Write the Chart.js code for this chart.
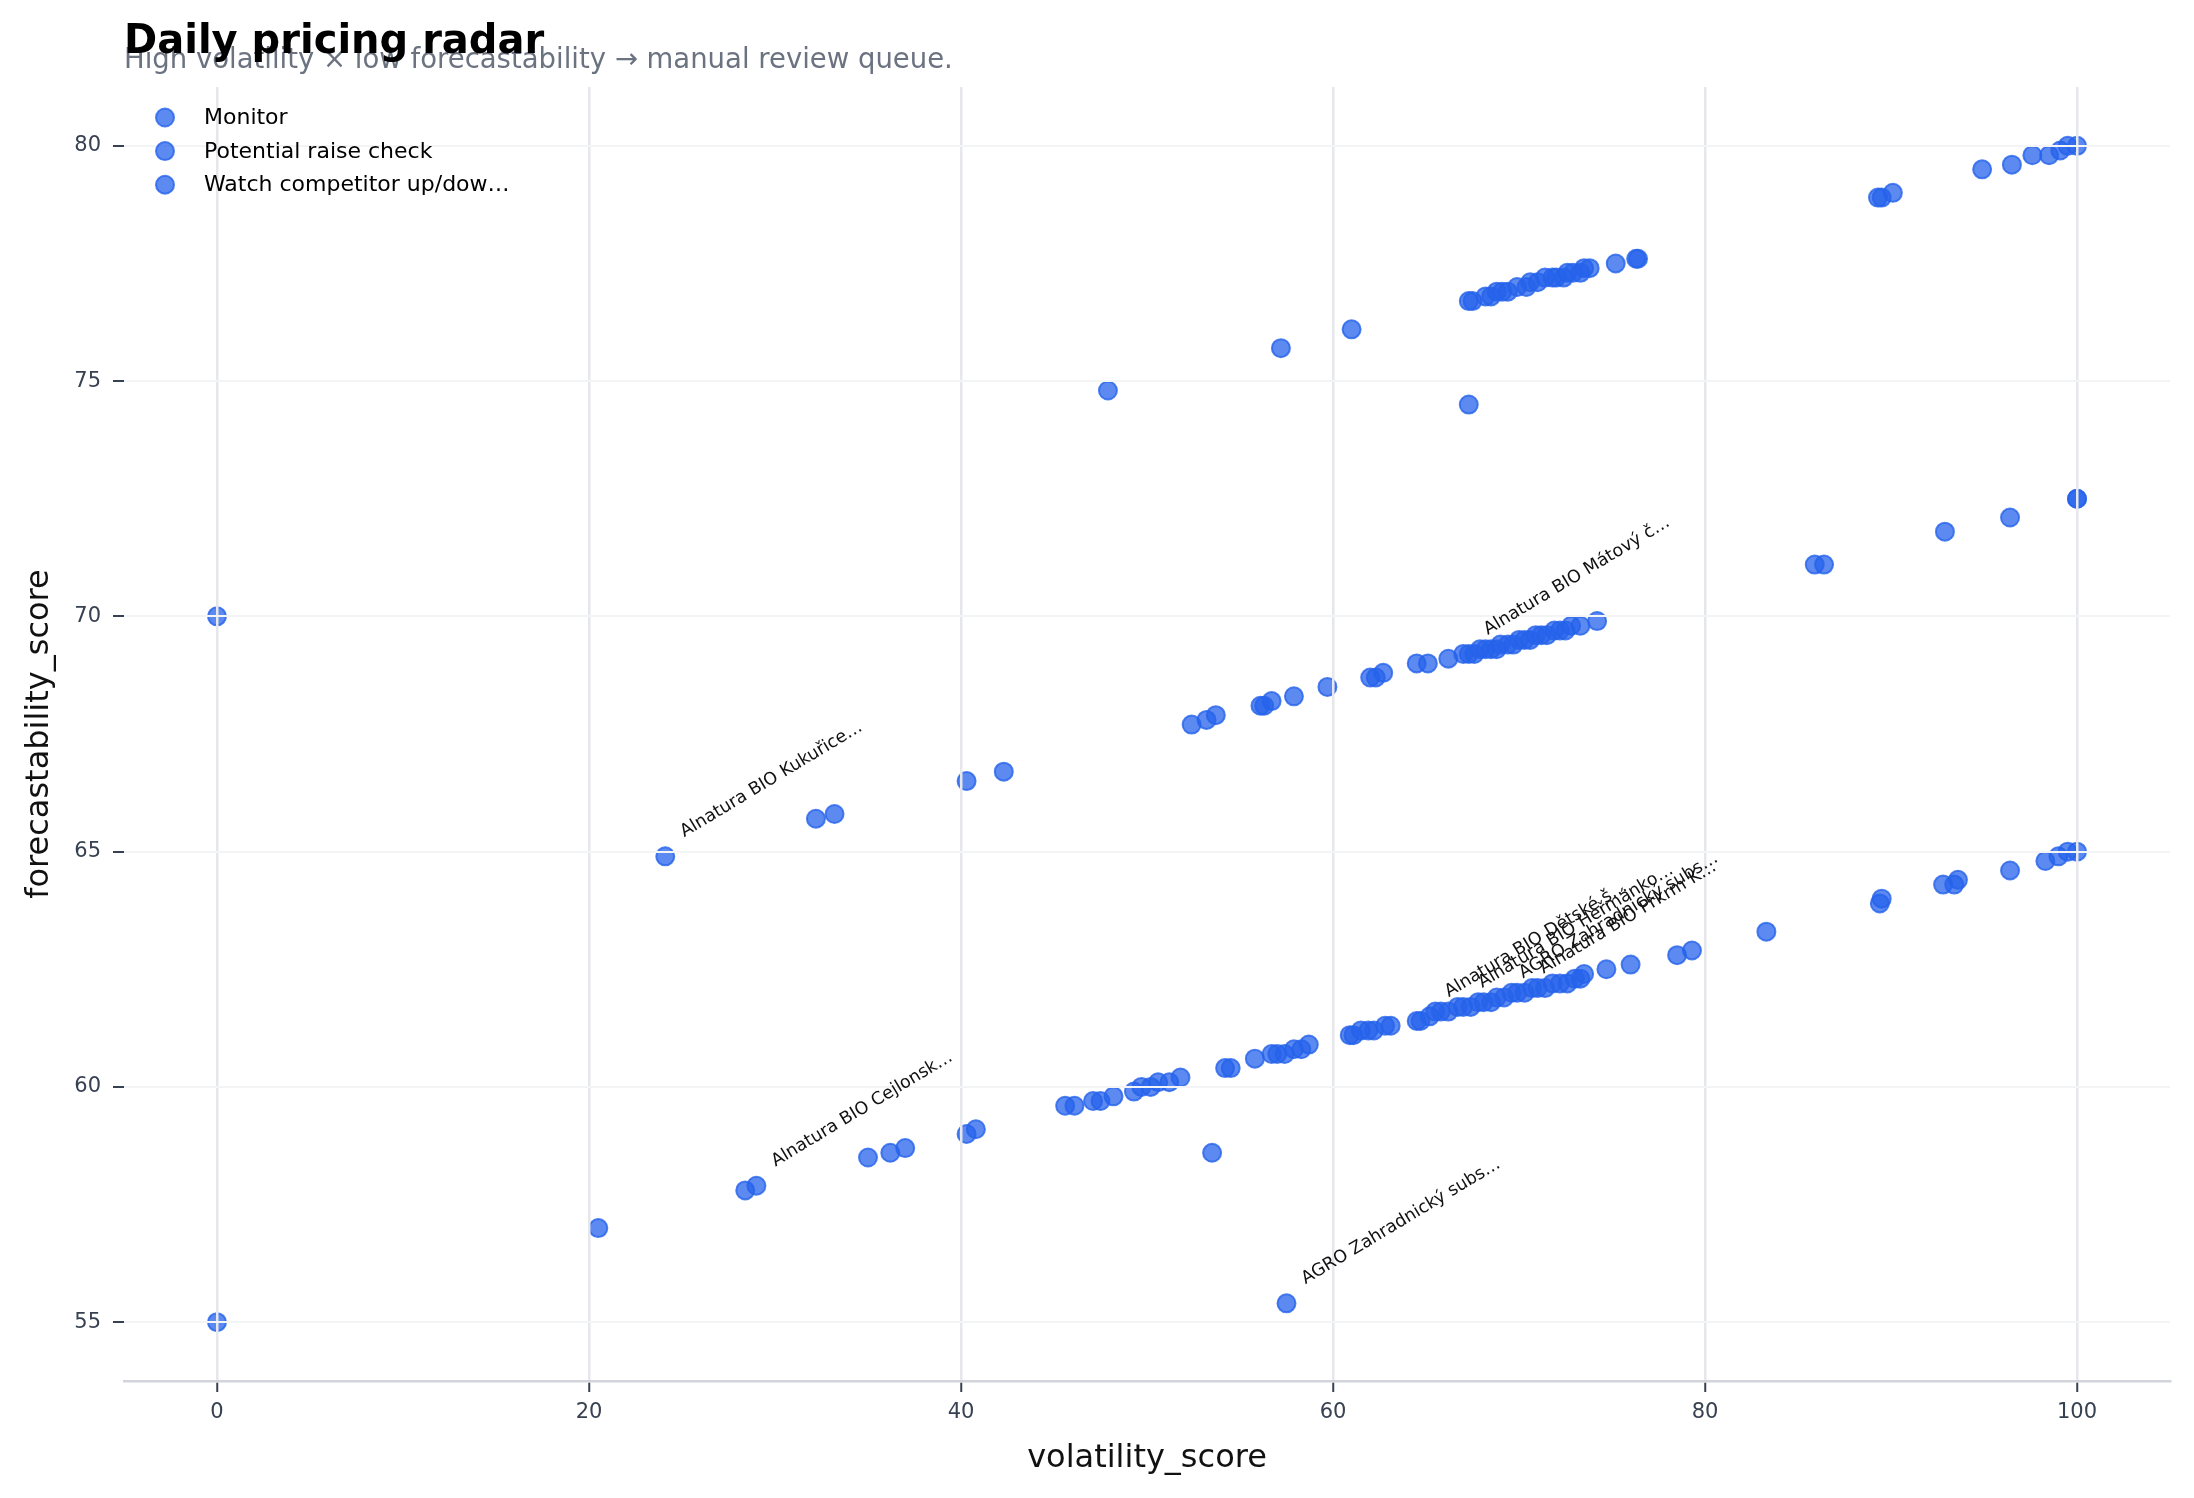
<!DOCTYPE html>
<html>
<head>
<meta charset="utf-8">
<script src="https://cdn.jsdelivr.net/npm/chart.js@4.4.1/dist/chart.umd.min.js"></script>
<style>
  html, body { margin: 0; padding: 0; background: #fff; }
</style>
</head>
<body>
<canvas id="radar" width="2194" height="1498"></canvas>
<script>
var FONT = "'DejaVu Sans', sans-serif";

// series names (as shown in the legend)
var seriesNames = ["Monitor", "Potential raise check", "Watch competitor up/dow…"];

// Monitor - lower band
var monitorX = [0, 20.5, 28.4, 29.0, 35.0, 36.2, 37.0, 40.3, 40.8, 45.6, 46.1, 47.1, 47.5, 48.2,
  49.3, 49.7, 50.2, 50.6, 51.2, 51.8, 53.5, 54.2, 54.5, 55.8, 56.7, 57.0, 57.4, 57.5, 57.9, 58.3,
  58.7, 60.9, 61.1, 61.5, 61.9, 62.2, 62.8, 63.1, 64.5, 64.7, 65.2, 65.5, 65.8, 66.2, 66.7, 67.0,
  67.4, 67.8, 68.1, 68.5, 68.8, 69.2, 69.6, 69.9, 70.3, 70.7, 71.0, 71.4, 71.8, 72.2, 72.6, 73.0,
  73.3, 73.5, 74.7, 76.0, 78.5, 79.3, 83.3, 89.4, 89.5, 92.8, 93.4, 93.6, 96.4, 98.3, 99.0, 99.5, 100];
var monitorY = [55.0, 57.0, 57.8, 57.9, 58.5, 58.6, 58.7, 59.0, 59.1, 59.6, 59.6, 59.7, 59.7, 59.8,
  59.9, 60.0, 60.0, 60.1, 60.1, 60.2, 58.6, 60.4, 60.4, 60.6, 60.7, 60.7, 60.7, 55.4, 60.8, 60.8,
  60.9, 61.1, 61.1, 61.2, 61.2, 61.2, 61.3, 61.3, 61.4, 61.4, 61.5, 61.6, 61.6, 61.6, 61.7, 61.7,
  61.7, 61.8, 61.8, 61.8, 61.9, 61.9, 62.0, 62.0, 62.0, 62.1, 62.1, 62.1, 62.2, 62.2, 62.2, 62.3,
  62.3, 62.4, 62.5, 62.6, 62.8, 62.9, 63.3, 63.9, 64.0, 64.3, 64.3, 64.4, 64.6, 64.8, 64.9, 65.0, 65.0];

// Potential raise check - upper band
var raiseX = [47.9, 57.2, 61.0, 67.3, 67.3, 67.5, 68.2, 68.5, 68.8, 69.1, 69.4, 69.9, 70.4, 70.6,
  71.0, 71.4, 71.8, 72.0, 72.4, 72.6, 72.9, 73.3, 73.5, 73.8, 75.2, 76.3, 76.4, 89.3, 89.5, 90.1,
  94.9, 96.5, 97.6, 98.5, 99.1, 99.5, 100];
var raiseY = [74.8, 75.7, 76.1, 74.5, 76.7, 76.7, 76.8, 76.8, 76.9, 76.9, 76.9, 77.0, 77.0, 77.1,
  77.1, 77.2, 77.2, 77.2, 77.2, 77.3, 77.3, 77.3, 77.4, 77.4, 77.5, 77.6, 77.6, 78.9, 78.9, 79.0,
  79.5, 79.6, 79.8, 79.8, 79.9, 80.0, 80.0];

// Watch competitor up/down - middle band
var watchX = [0, 24.1, 32.2, 33.2, 40.3, 42.3, 52.4, 53.2, 53.7, 56.1, 56.3, 56.7, 57.9, 59.7, 62.0,
  62.3, 62.7, 64.5, 65.1, 66.2, 67.0, 67.3, 67.6, 67.9, 68.2, 68.5, 68.8, 69.0, 69.4, 69.7, 70.0,
  70.3, 70.6, 70.9, 71.2, 71.5, 71.9, 72.2, 72.5, 72.8, 73.3, 74.2, 85.9, 86.4, 92.9, 96.4, 100, 100];
var watchY = [70.0, 64.9, 65.7, 65.8, 66.5, 66.7, 67.7, 67.8, 67.9, 68.1, 68.1, 68.2, 68.3, 68.5, 68.7,
  68.7, 68.8, 69.0, 69.0, 69.1, 69.2, 69.2, 69.2, 69.3, 69.3, 69.3, 69.3, 69.4, 69.4, 69.4, 69.5,
  69.5, 69.5, 69.6, 69.6, 69.6, 69.7, 69.7, 69.7, 69.8, 69.8, 69.9, 71.1, 71.1, 71.8, 72.1, 72.5, 72.5];

// annotated products
var noteText = ["Alnatura BIO Kukuřice…", "Alnatura BIO Cejlonsk…", "AGRO Zahradnický subs…",
  "Alnatura BIO Mátový č…", "Alnatura BIO Dětské š…", "Alnatura BIO Heřmánko…",
  "AGRO Zahradnický subs…", "Alnatura BIO Prkrm K…"];
var noteX = [24.1, 29.0, 57.5, 67.3, 65.2, 67.0, 69.2, 70.3];
var noteY = [64.9, 57.9, 55.4, 69.2, 61.5, 61.7, 61.9, 62.0];

var xTicks = [0, 20, 40, 60, 80, 100];
var yTicks = [55, 60, 65, 70, 75, 80];

function pts(xs, ys) {
  return xs.map(function (x, i) { return { x: x, y: ys[i] }; });
}

var dotFill = 'rgba(37, 99, 235, 0.75)';
var dotEdge = 'rgba(37, 99, 235, 0.8)';

function dotStyle(name, data) {
  return {
    label: name,
    data: data,
    backgroundColor: dotFill,
    borderColor: dotEdge,
    borderWidth: 2,
    pointRadius: 9,
    pointHoverRadius: 9
  };
}

var header = {
  id: 'header',
  afterDraw: function (chart) {
    var ctx = chart.ctx;
    ctx.save();
    ctx.textAlign = 'left';
    ctx.textBaseline = 'alphabetic';
    ctx.fillStyle = '#6b7280';
    ctx.font = '27.5px ' + FONT;
    ctx.fillText('High volatility × low forecastability → manual review queue.', 124, 68);
    ctx.fillStyle = '#000000';
    ctx.font = 'bold 40px ' + FONT;
    ctx.fillText('Daily pricing radar', 124, 53);
    ctx.restore();
  }
};

var innerLegend = {
  id: 'innerLegend',
  afterDraw: function (chart) {
    var ctx = chart.ctx;
    ctx.save();
    ctx.font = '22px ' + FONT;
    ctx.textBaseline = 'middle';
    ctx.textAlign = 'left';
    chart.data.datasets.forEach(function (ds, i) {
      var cy = 117.5 + i * 33.6;
      ctx.beginPath();
      ctx.arc(165, cy, 9, 0, Math.PI * 2);
      ctx.fillStyle = ds.backgroundColor;
      ctx.fill();
      ctx.lineWidth = 2;
      ctx.strokeStyle = ds.borderColor;
      ctx.stroke();
      ctx.fillStyle = '#000000';
      ctx.fillText(ds.label, 204, cy + 1);
    });
    ctx.restore();
  }
};

var notes = {
  id: 'notes',
  afterDraw: function (chart) {
    var ctx = chart.ctx;
    var xs = chart.scales.x, ys = chart.scales.y;
    ctx.save();
    ctx.font = '17.5px ' + FONT;
    ctx.fillStyle = '#111111';
    ctx.textAlign = 'left';
    ctx.textBaseline = 'alphabetic';
    noteText.forEach(function (t, i) {
      var px = xs.getPixelForValue(noteX[i]);
      var py = ys.getPixelForValue(noteY[i]);
      ctx.save();
      ctx.translate(px + 19, py - 19);
      ctx.rotate(-31 * Math.PI / 180);
      ctx.fillText(t, 0, 0);
      ctx.restore();
    });
    ctx.restore();
  }
};

new Chart(document.getElementById('radar'), {
  type: 'scatter',
  data: {
    datasets: [
      dotStyle(seriesNames[0], pts(monitorX, monitorY)),
      dotStyle(seriesNames[1], pts(raiseX, raiseY)),
      dotStyle(seriesNames[2], pts(watchX, watchY))
    ]
  },
  options: {
    responsive: false,
    animation: false,
    layout: { padding: { top: 87, right: 24, bottom: 0, left: 0 } },
    plugins: {
      legend: { display: false },
      title: { display: false },
      tooltip: { enabled: false }
    },
    scales: {
      x: {
        type: 'linear',
        min: -5,
        max: 105,
        afterBuildTicks: function (s) { s.ticks = xTicks.map(function (v) { return { value: v }; }); },
        afterFit: function (s) { s.height = 117; },
        grid: { z: 1, color: '#e5e7eb', lineWidth: 2.5, tickColor: '#374151', tickLength: 11, tickWidth: 2 },
        border: { display: true, z: 1, color: '#d1d5db', width: 2.5 },
        ticks: { font: { family: FONT, size: 21 }, color: '#374151', padding: 8 },
        title: {
          display: true, text: 'volatility_score', color: '#111111',
          font: { family: FONT, size: 32 }, padding: { top: 0, bottom: 20 }
        }
      },
      y: {
        type: 'linear',
        min: 53.75,
        max: 81.25,
        afterBuildTicks: function (s) { s.ticks = yTicks.map(function (v) { return { value: v }; }); },
        afterFit: function (s) { s.width = 124; },
        grid: { z: 1, color: '#f3f4f6', lineWidth: 2, tickColor: '#374151', tickLength: 11, tickWidth: 2 },
        border: { display: false },
        ticks: { font: { family: FONT, size: 21 }, color: '#374151', padding: 12 },
        title: {
          display: true, text: 'forecastability_score', color: '#111111',
          font: { family: FONT, size: 32 }, padding: { top: 20, bottom: 0 }
        }
      }
    }
  },
  plugins: [header, innerLegend, notes]
});
</script>
</body>
</html>
